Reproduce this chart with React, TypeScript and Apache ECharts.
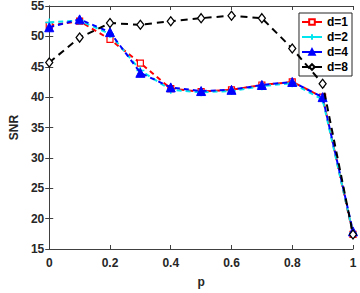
import React, { useEffect, useRef } from "react";
import * as echarts from "echarts";

const pValues = [0, 0.1, 0.2, 0.3, 0.4, 0.5, 0.6, 0.7, 0.8, 0.9, 1];
const d1 = [51.8, 52.5, 49.5, 45.6, 41.4, 40.9, 41.2, 42.0, 42.5, 40.0, 17.4];
const d2 = [52.3, 52.6, 50.4, 44.4, 41.2, 40.8, 41.0, 41.8, 42.3, 39.6, 17.6];
const d4 = [51.5, 52.8, 50.7, 44.0, 41.6, 41.0, 41.2, 42.0, 42.5, 40.0, 17.9];
const d8 = [45.7, 49.8, 52.2, 51.9, 52.5, 53.0, 53.4, 53.0, 48.0, 42.2, 17.4];
const seriesNames = ["d=1", "d=2", "d=4", "d=8"];
const yTicks = { min: 15, max: 55, interval: 5 };
const xTicks = { min: 0, max: 1, interval: 0.2 };

const plusPath = "path://M0,5L10,5M5,0L5,10";

export default function App() {
  const ref = useRef<HTMLDivElement>(null);
  useEffect(() => {
    const chart = echarts.init(ref.current!, null, { renderer: "svg" });
    const pair = (arr: number[]) => pValues.map((p, i) => [p, arr[i]]);
    const font = "Liberation Sans, Arial, sans-serif";
    const axisColor = "#404040";
    const labelStyle = { color: "#262626", fontWeight: "bold" as const, fontSize: 12, fontFamily: font };
    chart.setOption({
      animation: false,
      backgroundColor: "#fff",
      grid: { left: 33, right: 7, top: 5, bottom: 37, containLabel: false },
      xAxis: [
        {
          type: "value",
          min: xTicks.min,
          max: xTicks.max,
          interval: xTicks.interval,
          name: "p",
          nameLocation: "middle",
          nameGap: 27,
          nameTextStyle: { ...labelStyle, fontSize: 12 },
          axisLine: { show: true, lineStyle: { color: axisColor, width: 1 } },
          axisTick: { show: true, inside: true, length: 4, lineStyle: { color: axisColor } },
          axisLabel: { ...labelStyle, margin: 8, formatter: (v: number) => String(+v.toFixed(1)) },
          splitLine: { show: false },
        },
        {
          type: "value",
          position: "top",
          min: xTicks.min,
          max: xTicks.max,
          interval: xTicks.interval,
          axisLine: { show: true, lineStyle: { color: axisColor, width: 1 } },
          axisTick: { show: true, inside: true, length: 4, lineStyle: { color: axisColor } },
          axisLabel: { show: false },
          splitLine: { show: false },
        },
      ],
      yAxis: [
        {
          type: "value",
          min: yTicks.min,
          max: yTicks.max,
          interval: yTicks.interval,
          name: "SNR",
          nameLocation: "middle",
          nameGap: 24,
          nameRotate: 90,
          nameTextStyle: { ...labelStyle, fontSize: 12 },
          axisLine: { show: true, lineStyle: { color: axisColor, width: 1 } },
          axisTick: { show: true, inside: true, length: 4, lineStyle: { color: axisColor } },
          axisLabel: { ...labelStyle, margin: 5 },
          splitLine: { show: false },
        },
        {
          type: "value",
          position: "right",
          min: yTicks.min,
          max: yTicks.max,
          interval: yTicks.interval,
          axisLine: { show: true, lineStyle: { color: axisColor, width: 1 } },
          axisTick: { show: true, inside: true, length: 4, lineStyle: { color: axisColor } },
          axisLabel: { show: false },
          splitLine: { show: false },
        },
      ],
      legend: {
        orient: "vertical",
        right: 8,
        top: 13,
        backgroundColor: "#fff",
        borderColor: "#262626",
        borderWidth: 1,
        borderRadius: 0,
        padding: [3, 4, 3, 2],
        itemGap: 3,
        itemWidth: 20,
        itemHeight: 7,
        lineStyle: { type: "solid" },
        textStyle: { color: "#000", fontSize: 12, fontWeight: "bold", fontFamily: font },
        data: seriesNames,
      },
      series: [
        {
          name: seriesNames[0],
          type: "line",
          data: pair(d1),
          symbol: "rect",
          symbolSize: 6,
          itemStyle: { color: "#fff", borderColor: "#ff0000", borderWidth: 1.2 },
          lineStyle: { color: "#ff0000", width: 2, type: [5, 4] },
          z: 2,
        },
        {
          name: seriesNames[1],
          type: "line",
          data: pair(d2),
          symbol: plusPath,
          symbolSize: 8,
          itemStyle: { color: "none", borderColor: "#00e5ee", borderWidth: 1.5 },
          lineStyle: { color: "#00e5ee", width: 2, type: [5, 4] },
          z: 3,
        },
        {
          name: seriesNames[2],
          type: "line",
          data: pair(d4),
          symbol: "triangle",
          symbolSize: 9,
          itemStyle: { color: "#0000ff", borderColor: "#0000ff", borderWidth: 1 },
          lineStyle: { color: "#0000ff", width: 2, type: [5, 4] },
          z: 4,
        },
        {
          name: seriesNames[3],
          type: "line",
          data: pair(d8),
          symbol: "diamond",
          symbolSize: [7, 9],
          itemStyle: { color: "#fff", borderColor: "#000", borderWidth: 1.3 },
          lineStyle: { color: "#000", width: 2, type: [7, 5] },
          z: 5,
        },
      ],
    });
    return () => chart.dispose();
  }, []);
  return (
    <div
      ref={ref}
      style={{ position: "fixed", left: 0, top: 0, width: 360, height: 293, background: "#fff" }}
    />
  );
}
